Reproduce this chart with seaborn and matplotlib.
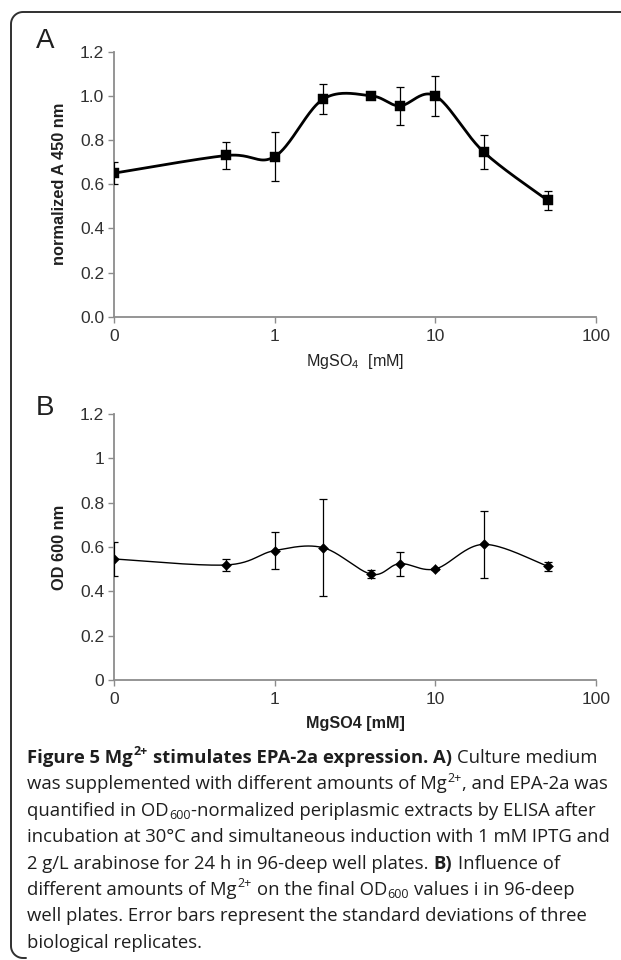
import numpy as np
import matplotlib
matplotlib.use("Agg")
import matplotlib.pyplot as plt
from matplotlib.lines import Line2D
import seaborn as sns

# MgSO4 in mM (the 0 mM point is drawn at 0.1 on the log axis, like Excel does)
conc_mM = [0.1, 0.5, 1, 2, 4, 6, 10, 20, 50]

# panel A - normalized A450 (ELISA)
a450 = [0.65, 0.73, 0.725, 0.985, 1.0, 0.955, 1.0, 0.746, 0.527]
a450_sd = [0.05, 0.063, 0.11, 0.067, 0.01, 0.086, 0.09, 0.077, 0.043]

# panel B - final OD600
od600 = [0.546, 0.519, 0.584, 0.597, 0.477, 0.525, 0.501, 0.612, 0.513]
od600_sd = [0.075, 0.028, 0.083, 0.22, 0.018, 0.054, 0.006, 0.15, 0.02]

x_ticks = [0.1, 1, 10, 100]
x_ticklabels = ["0", "1", "10", "100"]
y_ticks = [0, 0.2, 0.4, 0.6, 0.8, 1.0, 1.2]
y_ticklabels_a = ["0.0", "0.2", "0.4", "0.6", "0.8", "1.0", "1.2"]
y_ticklabels_b = ["0", "0.2", "0.4", "0.6", "0.8", "1", "1.2"]

# caption runs: (text, style) - b = bold, sup/sub = small raised/lowered
caption = [
    [("Figure 5 Mg", "b"), ("2+", "bsup"), (" stimulates EPA-2a expression. A)", "b"), (" Culture medium", "n")],
    [("was supplemented with different amounts of Mg", "n"), ("2+", "sup"), (", and EPA-2a was", "n")],
    [("quantified in OD", "n"), ("600", "sub"), ("-normalized periplasmic extracts by ELISA after", "n")],
    [("incubation at 30°C and simultaneous induction with 1 mM IPTG and", "n")],
    [("2 g/L arabinose for 24 h in 96-deep well plates.", "n"), (" B)", "b"), (" Influence of", "n")],
    [("different amounts of Mg", "n"), ("2+", "sup"), (" on the final OD", "n"), ("600", "sub"),
     (" values i in 96-deep", "n")],
    [("well plates. Error bars represent the standard deviations of three", "n")],
    [("biological replicates.", "n")],
]

sns.set_theme(style="ticks")
plt.rcParams["font.family"] = ["Liberation Sans", "DejaVu Sans"]
plt.rcParams["mathtext.fontset"] = "custom"
plt.rcParams["mathtext.default"] = "regular"

W, H = 621, 960
fig = plt.figure(figsize=(W / 100, H / 100), dpi=100)
fig.patch.set_facecolor("white")


def excel_smooth(xs, ys, n=40):
    # bezier smoothing like Excel's "smoothed line", done in log-x space
    lx = np.log10(xs)
    y = np.asarray(ys, float)
    px = np.concatenate([[lx[0]], lx, [lx[-1]]])
    py = np.concatenate([[y[0]], y, [y[-1]]])
    t = np.linspace(0, 1, n)[:, None]
    out = []
    for i in range(1, len(px) - 2):
        p0 = np.array([px[i - 1], py[i - 1]])
        p1 = np.array([px[i], py[i]])
        p2 = np.array([px[i + 1], py[i + 1]])
        p3 = np.array([px[i + 2], py[i + 2]])
        c1 = p1 + (p2 - p0) / 6
        c2 = p2 - (p3 - p1) / 6
        seg = ((1 - t) ** 3) * p1 + 3 * ((1 - t) ** 2) * t * c1 + 3 * (1 - t) * t ** 2 * c2 + t ** 3 * p2
        out.append(seg)
    out = np.vstack(out)
    return 10 ** out[:, 0], out[:, 1]


def panel(ax, vals, sds, marker, msize, lw, yticklabels, ylabel, xlabel, xlab_bold):
    sx, sy = excel_smooth(conc_mM, vals)
    sns.lineplot(x=sx, y=sy, ax=ax, sort=False, estimator=None, color="black", lw=lw)
    ax.errorbar(conc_mM, vals, yerr=sds, fmt="none", ecolor="black", elinewidth=0.9,
                capsize=3.2, capthick=0.9, zorder=3)
    sns.scatterplot(x=conc_mM, y=vals, ax=ax, marker=marker, s=msize, color="black",
                    edgecolor="black", linewidth=0.3, zorder=4)
    ax.set_xscale("log")
    ax.set_xlim(0.1, 100)
    ax.set_ylim(0, 1.2)
    ax.set_xticks(x_ticks)
    ax.set_xticklabels(x_ticklabels)
    ax.minorticks_off()
    ax.set_yticks(y_ticks)
    ax.set_yticklabels(yticklabels)
    for s in ["top", "right"]:
        ax.spines[s].set_visible(False)
    for s in ["left", "bottom"]:
        ax.spines[s].set_color("#8c8c8c")
        ax.spines[s].set_linewidth(1.3)
    ax.tick_params(axis="both", direction="out", length=4, width=1.0, color="#8c8c8c",
                   labelsize=12.5, labelcolor="#303030", pad=3)
    ax.tick_params(axis="x", pad=5)
    ax.set_ylabel(ylabel, fontsize=11.8, fontweight="bold", color="#202020")
    ax.yaxis.set_label_coords(-0.114, 0.5)
    ax.yaxis.label.set_va("center")
    ax.set_xlabel(xlabel, fontsize=11.6, fontweight="bold" if xlab_bold else "normal", color="#202020")
    ax.xaxis.label.set_va("center")
    ax.set_facecolor("white")


ax_a = fig.add_axes([114 / W, 1 - 316.7 / H, 482 / W, 265 / H])
panel(ax_a, a450, a450_sd, "s", 55, 2.0, y_ticklabels_a, "normalized A 450 nm",
      "MgSO$_4$  [mM]", False)
ax_a.xaxis.set_label_coords(0.5, -0.17)

ax_b = fig.add_axes([114 / W, 1 - 680 / H, 482 / W, 266 / H])
panel(ax_b, od600, od600_sd, "D", 26, 1.0, y_ticklabels_b, "OD 600 nm",
      "MgSO4 [mM]", True)
ax_b.xaxis.set_label_coords(0.5, -0.162)

fig.text(36 / W, 1 - 48 / H, "A", fontsize=20, color="#202020", va="baseline")
fig.text(36 / W, 1 - 415 / H, "B", fontsize=20, color="#202020", va="baseline")

# frame: top line + rounded top-left corner + left line + rounded bottom-left corner (pixels from top)
r = 12
a1 = np.linspace(np.pi / 2, np.pi, 15)
a2 = np.linspace(np.pi, 1.5 * np.pi, 15)
fx = np.concatenate([[W + 5], 11 + r + r * np.cos(a1), 11 + r + r * np.cos(a2), [26]])
fy = np.concatenate([[12], 12 + r - r * np.sin(a1), 958 - r - r * np.sin(a2), [958]])
fig.add_artist(Line2D(fx / W, 1 - fy / H, transform=fig.transFigure, color="#303030", lw=1.4))

# caption, drawn line by line with bold/regular/super/subscript runs
cap_font = ["Open Sans", "DejaVu Sans"]
cap_size = 13.3
px_per_pt = 100 / 72
gap = 0.26 * cap_size * px_per_pt
renderer = fig.canvas.get_renderer()
base0, step = 763, 26.4
for i, runs in enumerate(caption):
    x = 27
    base = base0 + i * step
    for txt, style in runs:
        if txt.startswith(" "):
            x += gap
            txt = txt.lstrip()
        size = cap_size
        y = base
        if "sup" in style:
            size = cap_size * 0.68
            y = base - 0.42 * cap_size * px_per_pt
        elif "sub" in style:
            size = cap_size * 0.68
            y = base + 0.18 * cap_size * px_per_pt
        weight = "bold" if style.startswith("b") else "normal"
        t = fig.text(x / W, 1 - y / H, txt, fontsize=size, family=cap_font, fontweight=weight,
                     color="#1e1e1e", va="baseline", ha="left")
        bb = t.get_window_extent(renderer=renderer)
        x += bb.width + 0.5

fig.savefig("out.png", dpi=100, facecolor="white")
